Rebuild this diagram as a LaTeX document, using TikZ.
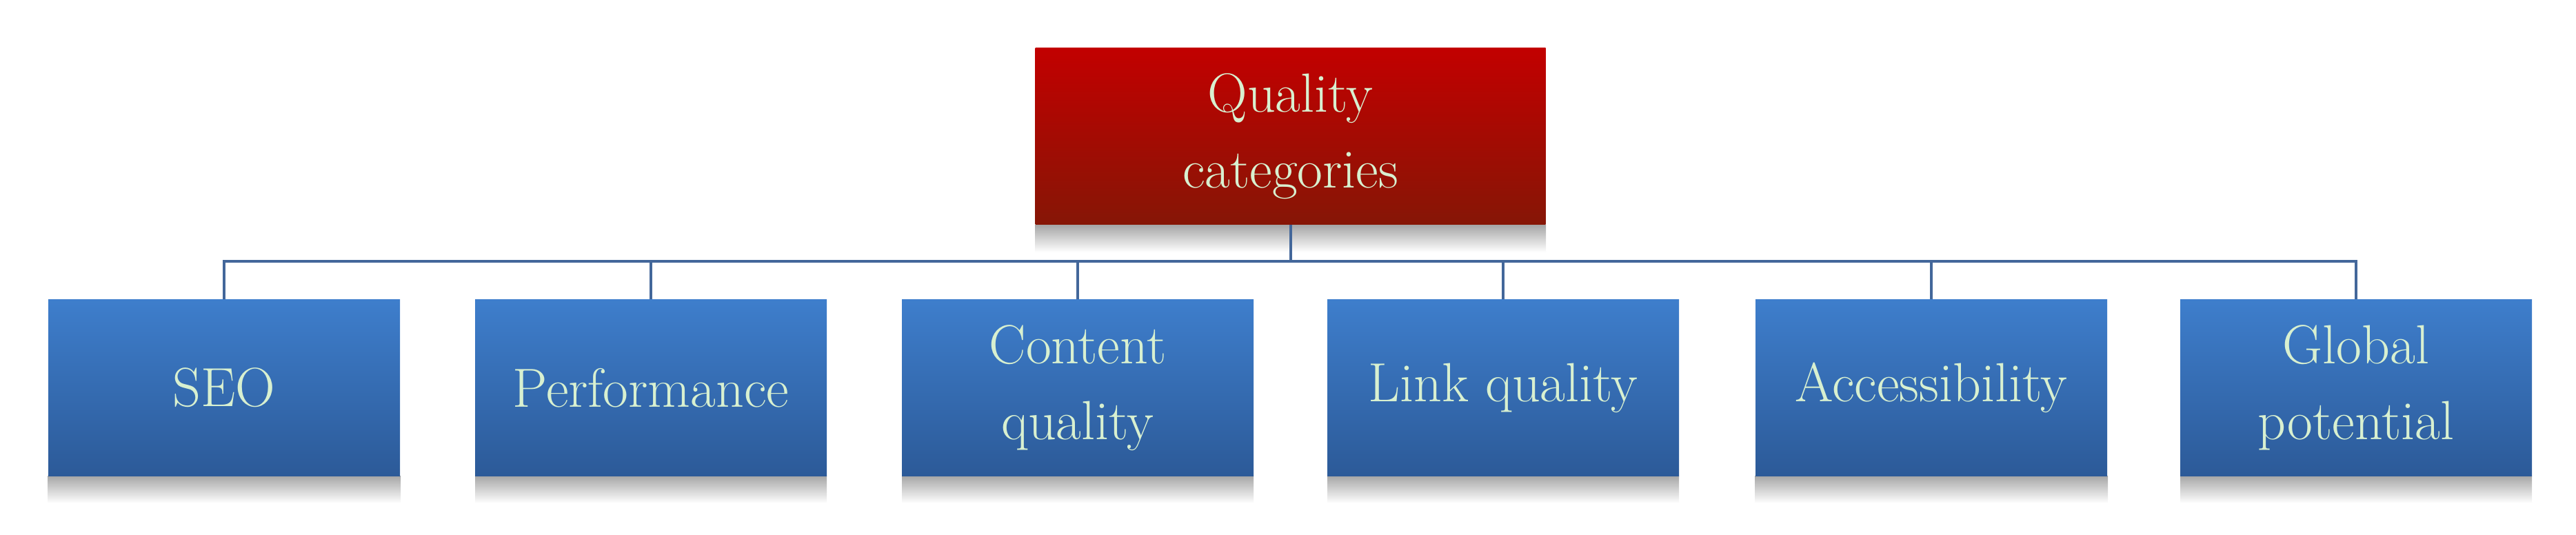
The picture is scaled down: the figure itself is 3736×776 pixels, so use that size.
\documentclass[tikz,border=0pt]{standalone}
\usetikzlibrary{positioning}
\definecolor{txt}{HTML}{D8F0D0}
\definecolor{btop}{HTML}{3E7ECC}
\definecolor{bbot}{HTML}{2C5A98}
\definecolor{rtop}{HTML}{C20000}
\definecolor{rbot}{HTML}{861606}
\definecolor{conn}{HTML}{43679A}
\tikzset{
 x=0.5pt,y=-0.5pt,
 box/.style={draw=none,minimum width=255pt,minimum height=128pt,inner sep=0pt,
   top color=btop,bottom color=bbot,text=txt,align=center,
   font=\fontsize{40}{55}\selectfont},
 root/.style={box,minimum width=370pt,top color=rtop,bottom color=rbot},
 shad/.style={top color=black!35,bottom color=white,draw=none},
 conn/.style={draw=conn,line width=2pt}
}
\begin{document}
\begin{tikzpicture}
\useasboundingbox (0,0) rectangle (3736,776);
\shade[shad] (1501,326) rectangle (2242,366);
\foreach \a/\b in {69/581,689/1199,1308/1818,1925/2435,2545/3057,3162/3672}{
  \shade[shad] (\a,690) rectangle (\b,730);
}
\node[root] (q) at (1871.5,197.5) {Quality\\categories};
\node[box] (a) at (325,562.5) {SEO};
\node[box] (b) at (944,562.5) {Performance};
\node[box] (c) at (1563,562.5) {Content\\quality};
\node[box] (d) at (2180,562.5) {Link quality};
\node[box] (e) at (2801,562.5) {Accessibility};
\node[box] (f) at (3417,562.5) {Global\\potential};
\coordinate (h) at (1871.5,379);
\draw[conn] (q.south) -- (h);
\draw[conn] (a.north) -- (a.north |- h) -- (f.north |- h) -- (f.north);
\foreach \n in {b,c,d,e} \draw[conn] (\n.north) -- (\n.north |- h);
\end{tikzpicture}
\end{document}
